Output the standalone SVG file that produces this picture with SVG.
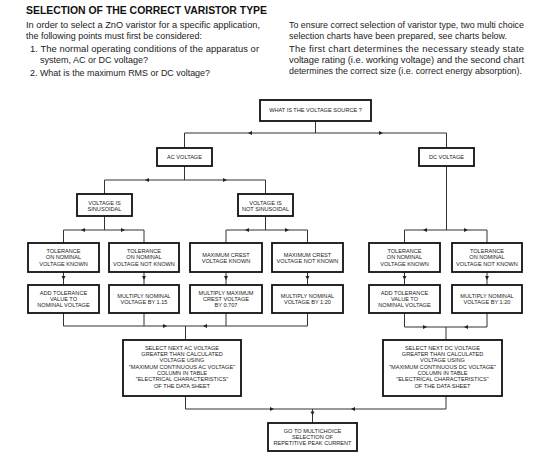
<svg xmlns="http://www.w3.org/2000/svg" xmlns:xlink="http://www.w3.org/1999/xlink" width="540" height="458" viewBox="0 0 540 458">
<style>
.ttl{font-family:"Liberation Sans",Arial,sans-serif;font-weight:900;font-size:11.5px;fill:#111}
.p{font-family:"Liberation Sans",Arial,sans-serif;font-size:9.4px;fill:#222}
.box{fill:#fff;stroke:#111;stroke-width:1.8}
.bt{font-family:"Liberation Sans",Arial,sans-serif;font-size:5.6px;fill:#222;text-anchor:middle}
.con{fill:none;stroke:#333;stroke-width:1}
.ah{fill:#222}
</style>
<defs>
<path id="ah" d="M2,0 L-2,-2 L-2,2 Z"/>
</defs>
<rect width="540" height="458" fill="#fff"/>
<g id="intro">
<text class="ttl" x="26" y="14" textLength="241" lengthAdjust="spacingAndGlyphs">SELECTION OF THE CORRECT VARISTOR TYPE</text>
<text class="p" x="26" y="28" textLength="234" lengthAdjust="spacingAndGlyphs">In order to select a ZnO varistor for a specific application,</text>
<text class="p" x="26" y="39" textLength="176" lengthAdjust="spacingAndGlyphs">the following points must first be considered:</text>
<text class="p" x="30" y="52" textLength="229" lengthAdjust="spacing">1. The normal operating conditions of the apparatus or</text>
<text class="p" x="40" y="63" textLength="108" lengthAdjust="spacingAndGlyphs">system, AC or DC voltage?</text>
<text class="p" x="30" y="76" textLength="180" lengthAdjust="spacingAndGlyphs">2. What is the maximum RMS or DC voltage?</text>
<text class="p" x="289" y="28" textLength="235" lengthAdjust="spacingAndGlyphs">To ensure correct selection of varistor type, two multi choice</text>
<text class="p" x="289" y="38.5" textLength="218" lengthAdjust="spacingAndGlyphs">selection charts have been prepared, see charts below.</text>
<text class="p" x="289" y="52" textLength="235" lengthAdjust="spacing">The first chart determines the necessary steady state</text>
<text class="p" x="289" y="63" textLength="235" lengthAdjust="spacing">voltage rating (i.e. working voltage) and the second chart</text>
<text class="p" x="289" y="74" textLength="233" lengthAdjust="spacingAndGlyphs">determines the correct size (i.e. correct energy absorption).</text>
</g>
<g id="connectors">
<path class="con" d="M315.5,121 V133 M184.5,133 H446.5 M184.5,133 V148 M446.5,133 V148"/>
<path class="con" d="M184.5,166 V180 M104.5,180 H265.5 M104.5,180 V194 M265.5,180 V194"/>
<path class="con" d="M104.5,216 V230 M63.5,230 H144 M63.5,230 V243 M144,230 V243"/>
<path class="con" d="M265.5,216 V230 M226,230 H307.5 M226,230 V243 M307.5,230 V243"/>
<path class="con" d="M446.5,166 V230 M404.5,230 H487 M404.5,230 V243 M487,230 V243"/>
<path class="con" d="M63.5,272 V285 M144,272 V285 M226,272 V285 M307.5,272 V285 M404.5,272 V285 M487,272 V285"/>
<path class="con" d="M63.5,313 V326 M144,313 V326 M226,313 V326 M307.5,313 V326 M63.5,326 H307.5 M185.5,326 V340"/>
<path class="con" d="M404.5,313 V327 M487,313 V327 M404.5,327 H487 M446,327 V340"/>
<path class="con" d="M185.5,396 V409 H446 V396 M312.5,409 V423"/>
<g class="ah">
<use xlink:href="#ah" transform="translate(250,133) rotate(180)"/>
<use xlink:href="#ah" transform="translate(381,133)"/>
<use xlink:href="#ah" transform="translate(147,180) rotate(180)"/>
<use xlink:href="#ah" transform="translate(225,180)"/>
<use xlink:href="#ah" transform="translate(83,230) rotate(180)"/>
<use xlink:href="#ah" transform="translate(123,230)"/>
<use xlink:href="#ah" transform="translate(247,230) rotate(180)"/>
<use xlink:href="#ah" transform="translate(287,230)"/>
<use xlink:href="#ah" transform="translate(425,230) rotate(180)"/>
<use xlink:href="#ah" transform="translate(466,230)"/>
<use xlink:href="#ah" transform="translate(63.5,278) rotate(90)"/>
<use xlink:href="#ah" transform="translate(144,278) rotate(90)"/>
<use xlink:href="#ah" transform="translate(226,278) rotate(90)"/>
<use xlink:href="#ah" transform="translate(307.5,278) rotate(90)"/>
<use xlink:href="#ah" transform="translate(404.5,278) rotate(90)"/>
<use xlink:href="#ah" transform="translate(487,278) rotate(90)"/>
<use xlink:href="#ah" transform="translate(165,326)"/>
<use xlink:href="#ah" transform="translate(205,326) rotate(180)"/>
<use xlink:href="#ah" transform="translate(425,327)"/>
<use xlink:href="#ah" transform="translate(466,327) rotate(180)"/>
<use xlink:href="#ah" transform="translate(272,409)"/>
<use xlink:href="#ah" transform="translate(353,409) rotate(180)"/>
<use xlink:href="#ah" transform="translate(312.5,413.5) rotate(90)"/>
</g>
</g>
<g id="n-source"><rect class="box" x="260" y="100" width="111" height="21"/><text class="bt" x="315.5" y="111.8">WHAT IS THE VOLTAGE SOURCE ?</text></g>
<g id="n-ac"><rect class="box" x="157" y="148" width="55" height="18"/><text class="bt" x="184.5" y="159">AC VOLTAGE</text></g>
<g id="n-dc"><rect class="box" x="419" y="148" width="55" height="18"/><text class="bt" x="446.5" y="159">DC VOLTAGE</text></g>
<g id="n-sin"><rect class="box" x="77" y="194" width="55" height="22"/><text class="bt" x="104.5" y="204.5">VOLTAGE IS</text><text class="bt" x="104.5" y="211">SINUSOIDAL</text></g>
<g id="n-notsin"><rect class="box" x="238" y="194" width="55" height="22"/><text class="bt" x="265.5" y="204.5">VOLTAGE IS</text><text class="bt" x="265.5" y="211">NOT SINUSOIDAL</text></g>
<g id="n-ac-tolk"><rect class="box" x="28" y="243" width="71" height="29"/><text class="bt" x="63.5" y="253">TOLERANCE</text><text class="bt" x="63.5" y="259.4">ON NOMINAL</text><text class="bt" x="63.5" y="265.8">VOLTAGE KNOWN</text></g>
<g id="n-ac-tolnk"><rect class="box" x="109" y="243" width="70" height="29"/><text class="bt" x="144" y="253">TOLERANCE</text><text class="bt" x="144" y="259.4">ON NOMINAL</text><text class="bt" x="144" y="265.8">VOLTAGE NOT KNOWN</text></g>
<g id="n-crestk"><rect class="box" x="190" y="243" width="72" height="29"/><text class="bt" x="226" y="257">MAXIMUM CREST</text><text class="bt" x="226" y="263.2">VOLTAGE KNOWN</text></g>
<g id="n-crestnk"><rect class="box" x="272" y="243" width="71" height="29"/><text class="bt" x="307.5" y="257">MAXIMUM CREST</text><text class="bt" x="307.5" y="263.2">VOLTAGE NOT KNOWN</text></g>
<g id="n-dc-tolk"><rect class="box" x="369" y="243" width="71" height="29"/><text class="bt" x="404.5" y="253">TOLERANCE</text><text class="bt" x="404.5" y="259.4">ON NOMINAL</text><text class="bt" x="404.5" y="265.8">VOLTAGE KNOWN</text></g>
<g id="n-dc-tolnk"><rect class="box" x="452" y="243" width="70" height="29"/><text class="bt" x="487" y="253">TOLERANCE</text><text class="bt" x="487" y="259.4">ON NOMINAL</text><text class="bt" x="487" y="265.8">VOLTAGE NOT KNOWN</text></g>
<g id="n-ac-add"><rect class="box" x="28" y="285" width="71" height="28"/><text class="bt" x="63.5" y="294.5">ADD TOLERANCE</text><text class="bt" x="63.5" y="300.8">VALUE TO</text><text class="bt" x="63.5" y="307.1">NOMINAL VOLTAGE</text></g>
<g id="n-ac-mul115"><rect class="box" x="109" y="285" width="70" height="28"/><text class="bt" x="144" y="298">MULTIPLY NOMINAL</text><text class="bt" x="144" y="304.3">VOLTAGE BY 1.15</text></g>
<g id="n-mul0707"><rect class="box" x="190" y="285" width="72" height="28"/><text class="bt" x="226" y="294.5">MULTIPLY MAXIMUM</text><text class="bt" x="226" y="300.8">CREST VOLTAGE</text><text class="bt" x="226" y="307.1">BY 0.707</text></g>
<g id="n-ac-mul120"><rect class="box" x="272" y="285" width="71" height="28"/><text class="bt" x="307.5" y="298">MULTIPLY NOMINAL</text><text class="bt" x="307.5" y="304.3">VOLTAGE BY 1:20</text></g>
<g id="n-dc-add"><rect class="box" x="369" y="285" width="71" height="28"/><text class="bt" x="404.5" y="294.5">ADD TOLERANCE</text><text class="bt" x="404.5" y="300.8">VALUE TO</text><text class="bt" x="404.5" y="307.1">NOMINAL VOLTAGE</text></g>
<g id="n-dc-mul120"><rect class="box" x="452" y="285" width="70" height="28"/><text class="bt" x="487" y="298">MULTIPLY NOMINAL</text><text class="bt" x="487" y="304.3">VOLTAGE BY 1:20</text></g>
<g id="n-ac-select"><rect class="box" x="123" y="340" width="118" height="56"/>
<text class="bt" x="182" y="349.5">SELECT NEXT AC VOLTAGE</text>
<text class="bt" x="182" y="355.9">GREATER THAN CALCULATED</text>
<text class="bt" x="182" y="362.2">VOLTAGE USING</text>
<text class="bt" x="182" y="368.5">"MAXIMUM CONTINUOUS AC VOLTAGE"</text>
<text class="bt" x="182" y="374.9">COLUMN IN TABLE</text>
<text class="bt" x="182" y="381.2">"ELECTRICAL CHARACTERISTICS"</text>
<text class="bt" x="182" y="387.6">OF THE DATA SHEET</text></g>
<g id="n-dc-select"><rect class="box" x="383" y="340" width="119" height="56"/>
<text class="bt" x="442.5" y="349.5">SELECT NEXT DC VOLTAGE</text>
<text class="bt" x="442.5" y="355.9">GREATER THAN CALCULATED</text>
<text class="bt" x="442.5" y="362.2">VOLTAGE USING</text>
<text class="bt" x="442.5" y="368.5">"MAXIMUM CONTINUOUS DC VOLTAGE"</text>
<text class="bt" x="442.5" y="374.9">COLUMN IN TABLE</text>
<text class="bt" x="442.5" y="381.2">"ELECTRICAL CHARACTERISTICS"</text>
<text class="bt" x="442.5" y="387.6">OF THE DATA SHEET</text></g>
<g id="n-goto"><rect class="box" x="268" y="423" width="89" height="28"/><text class="bt" x="312.5" y="432.7">GO TO MULTICHOICE</text><text class="bt" x="312.5" y="438.6">SELECTION OF</text><text class="bt" x="312.5" y="444.5">REPETITIVE PEAK CURRENT</text></g>
</svg>
